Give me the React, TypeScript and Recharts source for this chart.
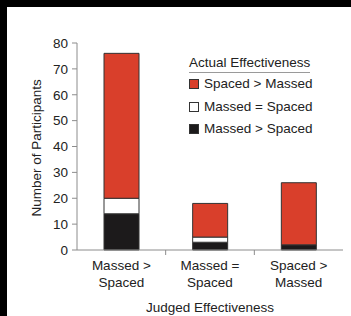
import { BarChart, Bar, XAxis, YAxis } from "recharts";

// judged effectiveness (x categories)
const categories = ["Massed >\nSpaced", "Massed =\nSpaced", "Spaced >\nMassed"];

// actual effectiveness, stacked bottom to top
const massedBetter = [14, 3, 2];
const equal = [6, 2, 0];
const spacedBetter = [56, 13, 24];

const yTicks = [0, 10, 20, 30, 40, 50, 60, 70, 80];

const series = [
  { key: "massedBetter", name: "Massed > Spaced", color: "#1c1a1b" },
  { key: "equal", name: "Massed = Spaced", color: "#ffffff" },
  { key: "spacedBetter", name: "Spaced > Massed", color: "#d93f2b" },
];

const chartData = categories.map((c, i) => ({
  category: c,
  massedBetter: massedBetter[i],
  equal: equal[i],
  spacedBetter: spacedBetter[i],
}));

const FONT = "'Liberation Sans', Arial, Helvetica, sans-serif";
const AXIS = "#8c8c8c";
const TEXT = "#222";

const CategoryTick = (props: any) => {
  const { x, y, payload, index } = props;
  const [l1, l2] = String(payload.value).split("\n");
  const half = payload.offset ?? 44;
  return (
    <g>
      <text x={x} y={y} textAnchor="middle" fill={TEXT} fontSize={13.5} fontFamily={FONT}>
        <tspan x={x} dy={12}>{l1}</tspan>
        <tspan x={x} dy={17}>{l2}</tspan>
      </text>
      {index > 0 && (
        <line x1={x - half} x2={x - half} y1={250} y2={255} stroke={AXIS} />
      )}
    </g>
  );
};

const LegendBox = () => (
  <div
    style={{
      position: "absolute",
      left: 189,
      top: 55,
      fontFamily: FONT,
      fontSize: 13.5,
      color: TEXT,
      lineHeight: "16px",
    }}
  >
    <div style={{ borderBottom: "1.5px solid #9a9a9a", paddingBottom: 1, display: "inline-block" }}>
      Actual Effectiveness
    </div>
    {[...series].reverse().map((s) => (
      <div key={s.key} style={{ display: "flex", alignItems: "center", height: 22.5 }}>
        <span
          style={{
            width: 8,
            height: 8,
            background: s.color,
            border: "1px solid #333",
            marginRight: 5,
            display: "inline-block",
          }}
        />
        {s.name}
      </div>
    ))}
  </div>
);

export default function App() {
  return (
    <div style={{ position: "fixed", left: 0, top: 0, width: 351, height: 316, background: "#000" }}>
      <div style={{ position: "absolute", left: 7, top: 7, right: 0, bottom: 0, background: "#fff" }} />
      <div style={{ position: "absolute", left: 0, top: 0 }}>
        <BarChart
          width={351}
          height={316}
          data={chartData}
          margin={{ top: 43, right: 8, left: 0, bottom: 0 }}
        >
          <XAxis
            dataKey="category"
            height={66}
            tick={<CategoryTick />}
            tickLine={false}
            axisLine={{ stroke: AXIS }}
            interval={0}
            label={{
              value: "Judged Effectiveness",
              position: "insideBottom",
              offset: 4,
              fill: TEXT,
              fontSize: 13.5,
              fontFamily: FONT,
            }}
          />
          <YAxis
            width={77}
            domain={[0, 80]}
            ticks={yTicks}
            interval={0}
            tickSize={5}
            tickMargin={4}
            tick={{ fill: TEXT, fontSize: 13.5, fontFamily: FONT }}
            tickLine={{ stroke: AXIS }}
            axisLine={{ stroke: AXIS }}
            label={{
              value: "Number of Participants",
              angle: -90,
              position: "insideLeft",
              offset: 36,
              dy: 70,
              fill: TEXT,
              fontSize: 13.5,
              fontFamily: FONT,
            }}
          />
          {series.map((s) => (
            <Bar
              key={s.key}
              dataKey={s.key}
              name={s.name}
              stackId="a"
              fill={s.color}
              stroke="#333"
              strokeWidth={1}
              barSize={35}
              isAnimationActive={false}
            />
          ))}
        </BarChart>
      </div>
      <LegendBox />
    </div>
  );
}
